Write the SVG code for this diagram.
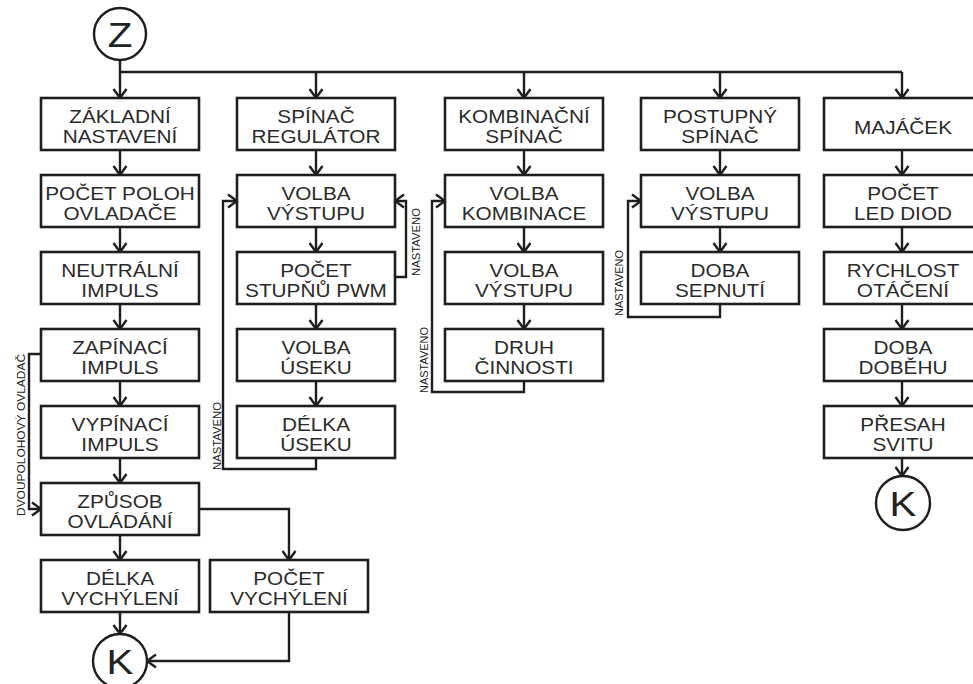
<svg xmlns="http://www.w3.org/2000/svg" width="973" height="684" viewBox="0 0 973 684">
<defs>
<style>
.box{fill:#fff;stroke:#1e1e1e;stroke-width:2.6}
.ln{fill:none;stroke:#1e1e1e;stroke-width:2.4}
.arr{marker-end:url(#ah)}
.t{font-family:"Liberation Sans",Arial,sans-serif;font-size:17.9px;fill:#2a2a2a;text-anchor:middle}
.big{font-family:"Liberation Sans",Arial,sans-serif;font-size:36px;fill:#222;text-anchor:middle}
.sm{font-family:"Liberation Sans",Arial,sans-serif;font-size:10.5px;fill:#222;text-anchor:middle}
.circ{fill:#fff;stroke:#1e1e1e;stroke-width:2.4}
</style>
<marker id="ah" viewBox="-11 -8 13 16" refX="0" refY="0" markerWidth="13" markerHeight="16" markerUnits="userSpaceOnUse" orient="auto">
<path d="M-9,-6.5 L0,0 L-9,6.5" fill="none" stroke="#1e1e1e" stroke-width="2.4"/>
</marker>
</defs>
<rect width="973" height="684" fill="#fff"/>

<g id="connectors">
<path class="ln" d="M120,72 H902"/>
<path class="ln arr" d="M120,60 V98"/>
<path class="ln arr" d="M316,72 V98"/>
<path class="ln arr" d="M524,72 V98"/>
<path class="ln arr" d="M720,72 V98"/>
<path class="ln arr" d="M902,72 V98"/>
<path class="ln arr" d="M120,150 V175"/>
<path class="ln arr" d="M120,227 V252"/>
<path class="ln arr" d="M120,304 V329"/>
<path class="ln arr" d="M120,381 V406"/>
<path class="ln arr" d="M120,458 V483"/>
<path class="ln arr" d="M120,535 V560"/>
<path class="ln arr" d="M120,612 V634"/>
<path class="ln arr" d="M41,354 H29 V509 H41"/>
<path class="ln arr" d="M199,509 H289 V560"/>
<path class="ln arr" d="M289,612 V661 H147"/>
<path class="ln arr" d="M316,150 V175"/>
<path class="ln arr" d="M316,227 V252"/>
<path class="ln arr" d="M316,304 V329"/>
<path class="ln arr" d="M316,381 V406"/>
<path class="ln arr" d="M316,458 V469 H223 V201 H237"/>
<path class="ln arr" d="M395,277 H406 V201 H395"/>
<path class="ln arr" d="M524,150 V175"/>
<path class="ln arr" d="M524,227 V252"/>
<path class="ln arr" d="M524,304 V329"/>
<path class="ln arr" d="M524,381 V392 H432 V201 H445"/>
<path class="ln arr" d="M720,150 V175"/>
<path class="ln arr" d="M720,227 V252"/>
<path class="ln arr" d="M720,304 V317 H628 V201 H641"/>
<path class="ln arr" d="M902,150 V175"/>
<path class="ln arr" d="M902,227 V252"/>
<path class="ln arr" d="M902,304 V329"/>
<path class="ln arr" d="M902,381 V406"/>
<path class="ln arr" d="M902,458 V476"/>
<text class="sm" transform="translate(25,435) rotate(-90)" textLength="162" lengthAdjust="spacingAndGlyphs">DVOUPOLOHOVÝ OVLADAČ</text>
<text class="sm" transform="translate(221,436) rotate(-90)" textLength="68" lengthAdjust="spacingAndGlyphs">NASTAVENO</text>
<text class="sm" transform="translate(420,242) rotate(-90)" textLength="68" lengthAdjust="spacingAndGlyphs">NASTAVENO</text>
<text class="sm" transform="translate(428,360) rotate(-90)" textLength="66" lengthAdjust="spacingAndGlyphs">NASTAVENO</text>
<text class="sm" transform="translate(623,283) rotate(-90)" textLength="66" lengthAdjust="spacingAndGlyphs">NASTAVENO</text>
</g>

<g id="start">
<circle class="circ" cx="120" cy="34" r="26"/>
<text class="big" transform="translate(120,47) scale(1.12,1)">Z</text>
</g>

<g id="zakladni"><rect class="box" x="41" y="98" width="158" height="52"/>
<text class="t" transform="translate(120,122.5) scale(1.16,1)">ZÁKLADNÍ</text><text class="t" transform="translate(120,142.5) scale(1.16,1)">NASTAVENÍ</text></g>
<g id="pocet-poloh"><rect class="box" x="41" y="175" width="158" height="52"/>
<text class="t" transform="translate(120,199.5) scale(1.16,1)">POČET POLOH</text><text class="t" transform="translate(120,219.5) scale(1.16,1)">OVLADAČE</text></g>
<g id="neutralni"><rect class="box" x="41" y="252" width="158" height="52"/>
<text class="t" transform="translate(120,276.5) scale(1.16,1)">NEUTRÁLNÍ</text><text class="t" transform="translate(120,296.5) scale(1.16,1)">IMPULS</text></g>
<g id="zapinaci"><rect class="box" x="41" y="329" width="158" height="52"/>
<text class="t" transform="translate(120,353.5) scale(1.16,1)">ZAPÍNACÍ</text><text class="t" transform="translate(120,373.5) scale(1.16,1)">IMPULS</text></g>
<g id="vypinaci"><rect class="box" x="41" y="406" width="158" height="52"/>
<text class="t" transform="translate(120,430.5) scale(1.16,1)">VYPÍNACÍ</text><text class="t" transform="translate(120,450.5) scale(1.16,1)">IMPULS</text></g>
<g id="zpusob"><rect class="box" x="41" y="483" width="158" height="52"/>
<text class="t" transform="translate(120,507.5) scale(1.16,1)">ZPŮSOB</text><text class="t" transform="translate(120,527.5) scale(1.16,1)">OVLÁDÁNÍ</text></g>
<g id="delka-vychyleni"><rect class="box" x="41" y="560" width="158" height="52"/>
<text class="t" transform="translate(120,584.5) scale(1.16,1)">DÉLKA</text><text class="t" transform="translate(120,604.5) scale(1.16,1)">VYCHÝLENÍ</text></g>
<g id="pocet-vychyleni"><rect class="box" x="210" y="560" width="158" height="52"/>
<text class="t" transform="translate(289,584.5) scale(1.16,1)">POČET</text><text class="t" transform="translate(289,604.5) scale(1.16,1)">VYCHÝLENÍ</text></g>
<g id="konec1">
<circle class="circ" cx="120" cy="661" r="27"/>
<text class="big" transform="translate(120,674) scale(1.12,1)">K</text>
</g>

<g id="spinac-regulator"><rect class="box" x="237" y="98" width="158" height="52"/>
<text class="t" transform="translate(316,122.5) scale(1.16,1)">SPÍNAČ</text><text class="t" transform="translate(316,142.5) scale(1.16,1)">REGULÁTOR</text></g>
<g id="volba-vystupu-2"><rect class="box" x="237" y="175" width="158" height="52"/>
<text class="t" transform="translate(316,199.5) scale(1.16,1)">VOLBA</text><text class="t" transform="translate(316,219.5) scale(1.16,1)">VÝSTUPU</text></g>
<g id="pocet-stupnu"><rect class="box" x="237" y="252" width="158" height="52"/>
<text class="t" transform="translate(316,276.5) scale(1.16,1)">POČET</text><text class="t" transform="translate(316,296.5) scale(1.16,1)">STUPŇŮ PWM</text></g>
<g id="volba-useku"><rect class="box" x="237" y="329" width="158" height="52"/>
<text class="t" transform="translate(316,353.5) scale(1.16,1)">VOLBA</text><text class="t" transform="translate(316,373.5) scale(1.16,1)">ÚSEKU</text></g>
<g id="delka-useku"><rect class="box" x="237" y="406" width="158" height="52"/>
<text class="t" transform="translate(316,430.5) scale(1.16,1)">DÉLKA</text><text class="t" transform="translate(316,450.5) scale(1.16,1)">ÚSEKU</text></g>

<g id="kombinacni"><rect class="box" x="445" y="98" width="158" height="52"/>
<text class="t" transform="translate(524,122.5) scale(1.16,1)">KOMBINAČNÍ</text><text class="t" transform="translate(524,142.5) scale(1.16,1)">SPÍNAČ</text></g>
<g id="volba-kombinace"><rect class="box" x="445" y="175" width="158" height="52"/>
<text class="t" transform="translate(524,199.5) scale(1.16,1)">VOLBA</text><text class="t" transform="translate(524,219.5) scale(1.16,1)">KOMBINACE</text></g>
<g id="volba-vystupu-3"><rect class="box" x="445" y="252" width="158" height="52"/>
<text class="t" transform="translate(524,276.5) scale(1.16,1)">VOLBA</text><text class="t" transform="translate(524,296.5) scale(1.16,1)">VÝSTUPU</text></g>
<g id="druh-cinnosti"><rect class="box" x="445" y="329" width="158" height="52"/>
<text class="t" transform="translate(524,353.5) scale(1.16,1)">DRUH</text><text class="t" transform="translate(524,373.5) scale(1.16,1)">ČINNOSTI</text></g>

<g id="postupny"><rect class="box" x="641" y="98" width="158" height="52"/>
<text class="t" transform="translate(720,122.5) scale(1.16,1)">POSTUPNÝ</text><text class="t" transform="translate(720,142.5) scale(1.16,1)">SPÍNAČ</text></g>
<g id="volba-vystupu-4"><rect class="box" x="641" y="175" width="158" height="52"/>
<text class="t" transform="translate(720,199.5) scale(1.16,1)">VOLBA</text><text class="t" transform="translate(720,219.5) scale(1.16,1)">VÝSTUPU</text></g>
<g id="doba-sepnuti"><rect class="box" x="641" y="252" width="158" height="52"/>
<text class="t" transform="translate(720,276.5) scale(1.16,1)">DOBA</text><text class="t" transform="translate(720,296.5) scale(1.16,1)">SEPNUTÍ</text></g>

<g id="majacek"><rect class="box" x="824" y="98" width="158" height="52"/>
<text class="t" transform="translate(903,133.5) scale(1.16,1)">MAJÁČEK</text></g>
<g id="pocet-led"><rect class="box" x="824" y="175" width="158" height="52"/>
<text class="t" transform="translate(903,199.5) scale(1.16,1)">POČET</text><text class="t" transform="translate(903,219.5) scale(1.16,1)">LED DIOD</text></g>
<g id="rychlost"><rect class="box" x="824" y="252" width="158" height="52"/>
<text class="t" transform="translate(903,276.5) scale(1.16,1)">RYCHLOST</text><text class="t" transform="translate(903,296.5) scale(1.16,1)">OTÁČENÍ</text></g>
<g id="doba-dobehu"><rect class="box" x="824" y="329" width="158" height="52"/>
<text class="t" transform="translate(903,353.5) scale(1.16,1)">DOBA</text><text class="t" transform="translate(903,373.5) scale(1.16,1)">DOBĚHU</text></g>
<g id="presah"><rect class="box" x="824" y="406" width="158" height="52"/>
<text class="t" transform="translate(903,430.5) scale(1.16,1)">PŘESAH</text><text class="t" transform="translate(903,450.5) scale(1.16,1)">SVITU</text></g>
<g id="konec2">
<circle class="circ" cx="903" cy="503" r="27"/>
<text class="big" transform="translate(903,516) scale(1.12,1)">K</text>
</g>
</svg>
